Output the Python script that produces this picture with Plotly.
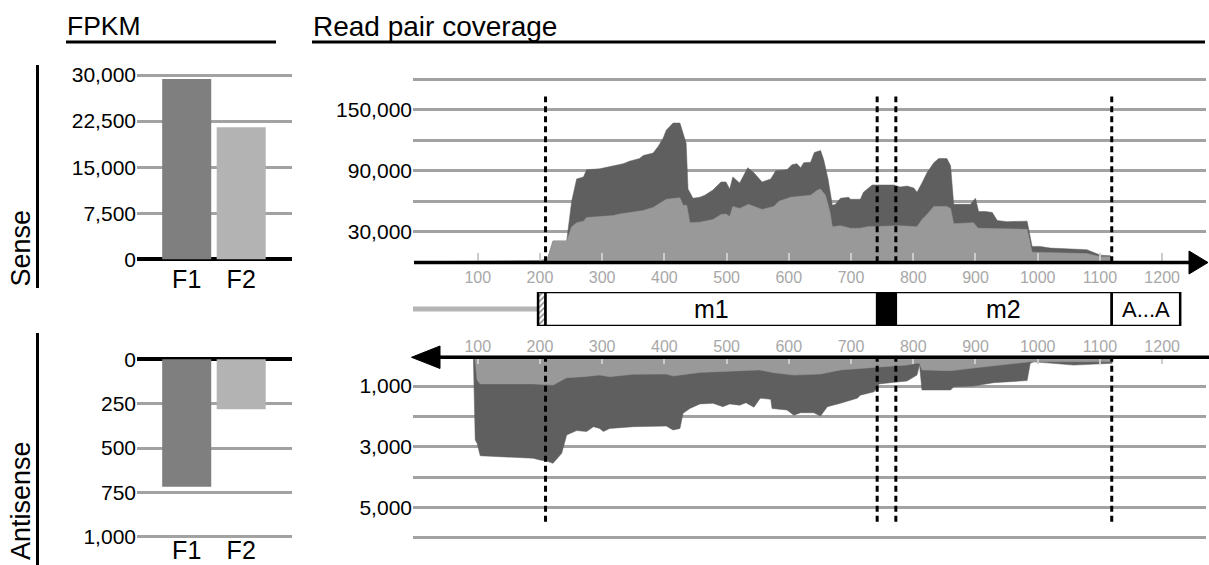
import plotly.graph_objects as go

W, H = 1209, 565

# ---------------- data ----------------
samples = ["F1", "F2"]
fpkm_sense = [29350, 21490]
fpkm_antisense = [718, 282]
sense_ticks = [0, 7500, 15000, 22500, 30000]
sense_ticktext = ["0", "7,500", "15,000", "22,500", "30,000"]
anti_ticks = [0, 250, 500, 750, 1000]
anti_ticktext = ["0", "250", "500", "750", "1,000"]

pos_ticks = [100, 200, 300, 400, 500, 600, 700, 800, 900, 1000, 1100, 1200]
cov_sense_ticks = [30000, 60000, 90000, 120000, 150000, 180000]
cov_sense_text = ["30,000", "", "90,000", "", "150,000", ""]
cov_anti_ticks = [1000, 2000, 3000, 4000, 5000, 6000]
cov_anti_text = ["1,000", "", "3,000", "", "5,000", ""]

# sense coverage: total (dark) and F2 (light)
sense_total_x = [0, 100, 200, 210, 213, 221, 243, 251, 259, 270, 275, 296, 318, 334, 344, 360, 366, 382, 390, 398,
                 403, 414, 425, 435, 438, 446, 457, 465, 478, 491, 499, 505, 510, 521, 534, 544, 557, 571, 579, 597,
                 605, 613, 619, 624, 635, 641, 651, 656, 663, 670, 675, 683, 696, 699, 715, 720, 734, 769, 779, 790,
                 801, 806, 814, 822, 833, 841, 854, 860, 865, 892, 900, 905, 916, 927, 935, 951, 983, 991, 1004, 1020,
                 1079, 1101, 1117, 1120]
sense_total_y = [500, 800, 1500, 3000, 5000, 21000, 21000, 60000, 82000, 84000, 91000, 92000, 95000, 97000, 99500,
                 102000, 105000, 107500, 114000, 122000, 130000, 137000, 137000, 117000, 72000, 63000, 64000, 66000,
                 71000, 79000, 79000, 72000, 84000, 78000, 93000, 88000, 79000, 82000, 90000, 91000, 96000, 97000,
                 93000, 98000, 98500, 108000, 110000, 101000, 82000, 56000, 57000, 63000, 64000, 62000, 62000, 69000,
                 76000, 76000, 74000, 75000, 73000, 69000, 78000, 88000, 98000, 102000, 102000, 95000, 57000, 57000,
                 63000, 50000, 50000, 49000, 41000, 40000, 40500, 15600, 15600, 14000, 12400, 7000, 6400, 0]
sense_f2_x = [0, 200, 210, 213, 221, 243, 251, 259, 270, 275, 318, 328, 366, 382, 390, 403, 425, 430, 436, 441,
              457, 478, 491, 499, 505, 510, 521, 535, 557, 576, 584, 603, 635, 646, 651, 659, 666, 670, 683, 699,
              715, 726, 779, 806, 814, 822, 833, 854, 860, 865, 897, 904, 983, 991, 1079, 1101, 1117, 1120]
sense_f2_y = [500, 1500, 3000, 5000, 21000, 21000, 35000, 39000, 40500, 44000, 46000, 47500, 51000, 54000, 57000,
              62000, 63500, 56000, 56000, 39000, 39500, 42000, 47000, 47500, 45000, 55000, 53000, 57000, 52000,
              55000, 60000, 64000, 66000, 71000, 72000, 66000, 50000, 35000, 36000, 33500, 33500, 35000, 36000,
              35000, 42000, 47000, 55000, 55000, 53000, 38000, 39000, 33500, 32500, 10000, 8600, 5400, 5400, 0]

# antisense coverage: total (dark) and F2 (light)
anti_total_x = [0, 90, 93, 96, 99, 104, 136, 189, 200, 213, 221, 235, 243, 259, 275, 286, 296, 302, 312, 334,
                350, 403, 414, 425, 430, 441, 457, 478, 494, 505, 521, 531, 544, 554, 571, 573, 597, 608, 619, 640,
                651, 662, 683, 710, 715, 737, 745, 763, 790, 806, 810, 814, 860, 865, 897, 929, 983, 988, 994, 1058,
                1120]
anti_total_y = [0, 0, 50, 2780, 2890, 3300, 3330, 3380, 3440, 3490, 3550, 3220, 2615, 2470, 2500, 2340, 2400, 2500,
                2400, 2370, 2340, 2320, 2450, 2400, 1900, 1740, 1590, 1570, 1680, 1590, 1630, 1550, 1700, 1400, 1440,
                1740, 1790, 1960, 1880, 1880, 1990, 1680, 1570, 1400, 1300, 1190, 930, 890, 835, 640, 300, 1130,
                1130, 1020, 1000, 890, 820, 250, 200, 310, 250]
anti_f2_x = [0, 93, 96, 99, 104, 189, 221, 243, 270, 296, 312, 350, 403, 414, 457, 510, 553, 576, 608, 651,
             683, 737, 790, 806, 810, 814, 860, 900, 988, 1120]
anti_f2_y = [0, 50, 140, 800, 930, 930, 970, 725, 690, 640, 690, 615, 605, 670, 550, 495, 470, 560, 640, 605,
             470, 385, 310, 250, 250, 470, 495, 400, 200, 200]

# gene model (positions in nt)
utr_line = [-6, 197]
gene_names = ["", "m1", "", "m2", "A...A"]
gene_bounds = [197, 209, 742, 772, 1119, 1229]
gene_fills = ["hatch", "white", "black", "white", "white"]
exon_marks = [209, 742, 772, 1119]

# ---------------- styling ----------------
FONT = "Liberation Sans, Arial, Helvetica, sans-serif"
GRID = "#a2a2a2"
DARK = "#5f5f5f"
LIGHT = "#999999"
BAR_COLORS = ["#7f7f7f", "#b3b3b3"]
TICKGRAY = "#a8a8a8"


def px(x):
    return x / W


def py(y):
    return 1 - y / H


fig = go.Figure()

# FPKM bars
fig.add_trace(go.Bar(x=samples, y=fpkm_sense, marker=dict(color=BAR_COLORS, line=dict(width=0)),
                     width=0.9, xaxis="x", yaxis="y"))
fig.add_trace(go.Bar(x=samples, y=fpkm_antisense, marker=dict(color=BAR_COLORS, line=dict(width=0)),
                     width=0.9, xaxis="x2", yaxis="y2"))

# coverage areas
for xs, ys, col, xa, ya in [
    (sense_total_x, sense_total_y, DARK, "x3", "y3"),
    (sense_f2_x, sense_f2_y, LIGHT, "x3", "y3"),
    (anti_total_x, anti_total_y, DARK, "x4", "y4"),
    (anti_f2_x, anti_f2_y, LIGHT, "x4", "y4"),
]:
    fig.add_trace(go.Scatter(x=xs, y=ys, mode="lines", fill="tozeroy", fillcolor=col,
                             line=dict(color=col, width=0.5), xaxis=xa, yaxis=ya, hoverinfo="skip"))

# gene model hatched UTR box
for i, kind in enumerate(gene_fills):
    if kind == "hatch":
        a, b = gene_bounds[i], gene_bounds[i + 1]
        fig.add_trace(go.Scatter(x=[a, b, b, a, a], y=[0, 0, 1, 1, 0], mode="lines", fill="toself",
                                 fillcolor="white",
                                 fillpattern=dict(shape="/", fgcolor="black", bgcolor="white", size=4, solidity=0.35),
                                 line=dict(color="black", width=2.5), xaxis="x3", yaxis="y5", hoverinfo="skip"))

shapes = []
annotations = []

# gray upstream line
shapes.append(dict(type="line", xref="x3", yref="y5", x0=utr_line[0], x1=utr_line[1], y0=0.5, y1=0.5,
                   line=dict(color="#b5b5b5", width=5), layer="below"))
# gene boxes
for i, kind in enumerate(gene_fills):
    if kind == "hatch":
        continue
    a, b = gene_bounds[i], gene_bounds[i + 1]
    shapes.append(dict(type="rect", xref="x3", yref="y5", x0=a, x1=b, y0=0, y1=1,
                       fillcolor="black" if kind == "black" else "white",
                       line=dict(color="black", width=2.5)))
    if gene_names[i]:
        annotations.append(dict(x=(a + b) / 2, y=0.5, xref="x3", yref="y5", text=gene_names[i],
                                showarrow=False, xanchor="center", yanchor="middle",
                                font=dict(size=25 if gene_names[i].startswith("m") else 22,
                                          color="black", family=FONT)))

# dashed exon boundaries
for xb in exon_marks:
    shapes.append(dict(type="line", xref="x3", yref="y3", x0=xb, x1=xb, y0=0, y1=163000,
                       line=dict(color="black", width=3, dash="6px,4px")))
    shapes.append(dict(type="line", xref="x4", yref="y4", x0=xb, x1=xb, y0=0, y1=5500,
                       line=dict(color="black", width=3, dash="6px,4px")))

# axis arrows
shapes.append(dict(type="line", xref="paper", yref="paper", x0=px(414), x1=px(1192), y0=py(262.5), y1=py(262.5),
                   line=dict(color="black", width=3.5)))
shapes.append(dict(type="path", xref="paper", yref="paper",
                   path=f"M {px(1208)},{py(262.5)} L {px(1189)},{py(251)} L {px(1189)},{py(274)} Z",
                   fillcolor="black", line=dict(color="black", width=1)))
shapes.append(dict(type="line", xref="paper", yref="paper", x0=px(438), x1=px(1209), y0=py(357.3), y1=py(357.3),
                   line=dict(color="black", width=3.5)))
shapes.append(dict(type="path", xref="paper", yref="paper",
                   path=f"M {px(411.5)},{py(357.3)} L {px(440)},{py(346)} L {px(440)},{py(368.5)} Z",
                   fillcolor="black", line=dict(color="black", width=1)))

# header underlines and side bars
for x0, x1 in [(66, 276), (312, 1205)]:
    shapes.append(dict(type="line", xref="paper", yref="paper", x0=px(x0), x1=px(x1), y0=py(42), y1=py(42),
                       line=dict(color="black", width=3)))
for y0, y1 in [(65, 288), (333, 565)]:
    shapes.append(dict(type="line", xref="paper", yref="paper", x0=px(37.5), x1=px(37.5), y0=py(y0), y1=py(y1),
                       line=dict(color="black", width=3)))

annotations += [
    dict(x=px(65), y=py(26), xref="paper", yref="paper", text="FPKM", showarrow=False, xanchor="left",
         yanchor="middle", font=dict(size=26.5, color="black", family=FONT)),
    dict(x=px(311), y=py(26), xref="paper", yref="paper", text="Read pair coverage", showarrow=False,
         xanchor="left", yanchor="middle", font=dict(size=28, color="black", family=FONT)),
    dict(x=px(21), y=py(248.5), xref="paper", yref="paper", text="Sense", showarrow=False, textangle=-90,
         xanchor="center", yanchor="middle", font=dict(size=27, color="black", family=FONT)),
    dict(x=px(21), y=py(501), xref="paper", yref="paper", text="Antisense", showarrow=False, textangle=-90,
         xanchor="center", yanchor="middle", font=dict(size=27, color="black", family=FONT)),
]

tickfont = dict(size=21, color="black", family=FONT)
catfont = dict(size=25, color="black", family=FONT)
posfont = dict(size=16, color=TICKGRAY, family=FONT)

xr3 = [(413 - 415.5) / 0.6222, (1206 - 415.5) / 0.6222]

fig.update_layout(
    width=W, height=H, margin=dict(l=0, r=0, t=0, b=0, autoexpand=False),
    paper_bgcolor="white", plot_bgcolor="white", showlegend=False,
    font=dict(family=FONT), bargap=0.1,
    shapes=shapes, annotations=annotations,
    xaxis=dict(domain=[px(137), px(292)], anchor="y", range=[-0.912, 1.932], tickfont=catfont,
               showgrid=False, zeroline=False, showline=False, ticks="", ticklabelstandoff=1, automargin=False),
    yaxis=dict(domain=[py(261.1), py(73.2)], anchor="x", range=[-300, 30300], tickvals=sense_ticks,
               ticktext=sense_ticktext, tickfont=tickfont, showgrid=True, gridcolor=GRID, gridwidth=2.5,
               zeroline=True, zerolinecolor="black", zerolinewidth=3.5, showline=False, ticks="",
               automargin=False),
    xaxis2=dict(domain=[px(137), px(292)], anchor="y2", range=[-0.912, 1.932], tickfont=catfont,
                showgrid=False, zeroline=False, showline=False, ticks="", ticklabelstandoff=-6,
                automargin=False),
    yaxis2=dict(domain=[py(538.8), py(357.2)], anchor="x2", range=[1012, -12], tickvals=anti_ticks,
                ticktext=anti_ticktext, tickfont=tickfont, showgrid=True, gridcolor=GRID, gridwidth=2.5,
                zeroline=True, zerolinecolor="black", zerolinewidth=3.5, showline=False, ticks="",
                automargin=False),
    xaxis3=dict(domain=[px(413), px(1206)], anchor="y3", range=xr3, tickvals=pos_ticks, tickfont=posfont,
                ticks="inside", ticklen=9, tickcolor="#cccccc", tickwidth=1.5, showgrid=False, zeroline=False,
                showline=False, ticklabelstandoff=4, automargin=False),
    yaxis3=dict(domain=[py(262.3), py(76.25)], anchor="x3", range=[0, 183000], tickvals=cov_sense_ticks,
                ticktext=cov_sense_text, tickfont=tickfont, showgrid=True, gridcolor=GRID, gridwidth=2.5,
                zeroline=False, showline=False, ticks="", automargin=False),
    xaxis4=dict(domain=[px(413), px(1206)], anchor="y4", side="top", range=xr3, tickvals=pos_ticks,
                tickfont=posfont, ticks="inside", ticklen=8, tickcolor="#cccccc", tickwidth=1.5, showgrid=False,
                zeroline=False, showline=False, automargin=False),
    yaxis4=dict(domain=[py(540.7), py(355.7)], anchor="x4", range=[6100, 0], tickvals=cov_anti_ticks,
                ticktext=cov_anti_text, tickfont=tickfont, showgrid=True, gridcolor=GRID, gridwidth=2.5,
                zeroline=False, showline=False, ticks="", automargin=False),
    yaxis5=dict(domain=[py(326), py(292)], anchor="x3", range=[0, 1], visible=False, fixedrange=True,
                automargin=False),
)

fig.write_html(
    "out.html",
    config={"displayModeBar": False},
    post_script="document.body.style.margin='0';document.body.style.overflow='hidden';"
)
